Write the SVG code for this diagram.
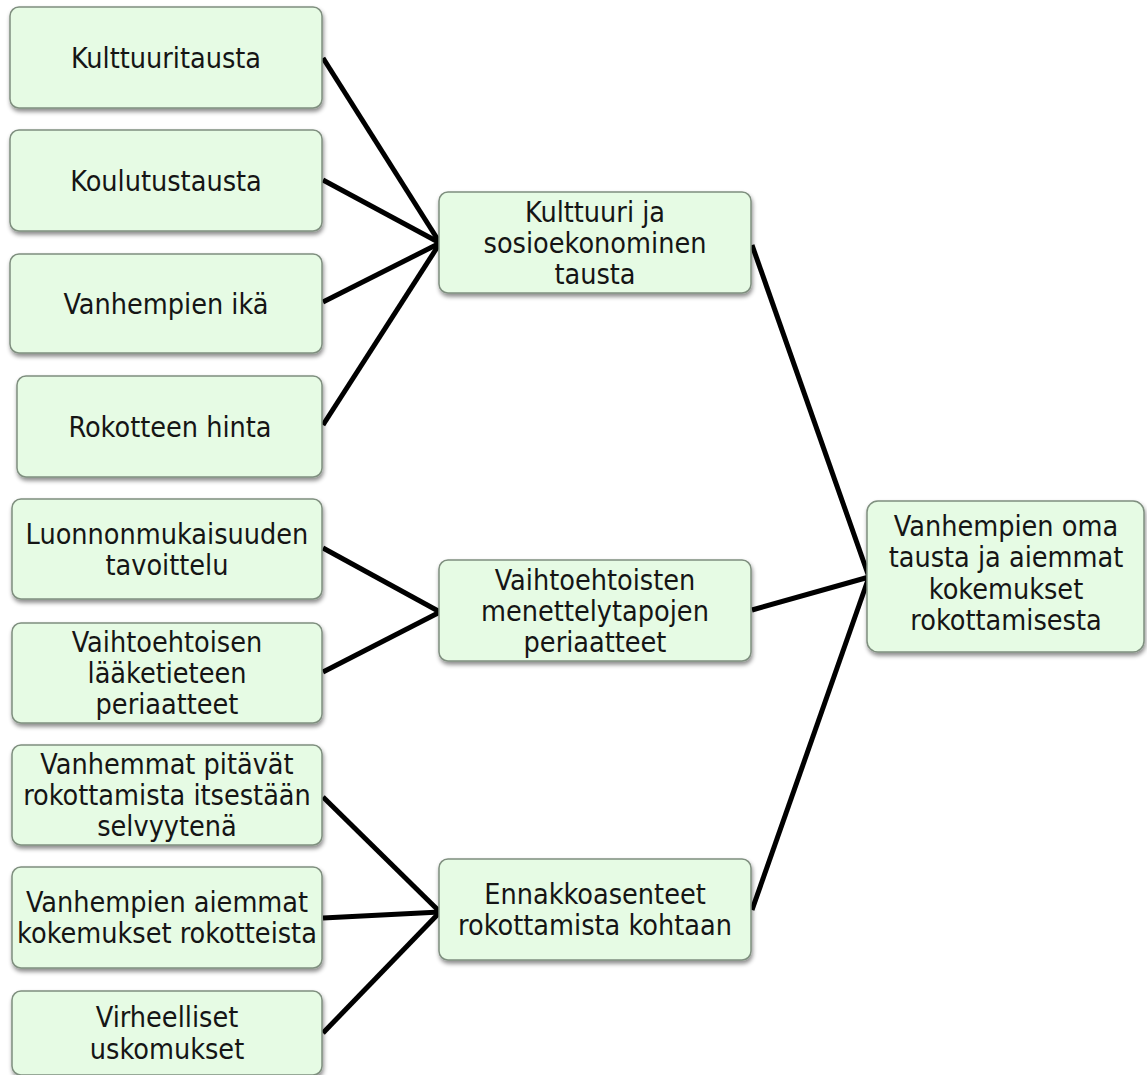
<svg xmlns="http://www.w3.org/2000/svg" width="1147" height="1075" viewBox="0 0 1147 1075">
<defs>
<filter id="sh" x="-5%" y="-10%" width="112%" height="130%">
<feDropShadow dx="1" dy="3" stdDeviation="2" flood-color="#000" flood-opacity="0.45"/>
</filter>
<style>
.box{fill:#e6fbe4;stroke:#7f8f7f;stroke-width:1.5;filter:url(#sh)}
.t{font-family:"DejaVu Sans Condensed","DejaVu Sans",sans-serif;font-stretch:condensed;font-size:28.5px;fill:#151515;text-anchor:middle}
.c{stroke:#000;stroke-width:5;fill:none;stroke-linecap:butt}
</style>
</defs>
<rect width="1147" height="1075" fill="#fff"/>
<g id="connectors">
<line class="c" x1="323" y1="58" x2="440" y2="243"/>
<line class="c" x1="323" y1="180" x2="440" y2="243"/>
<line class="c" x1="323" y1="302" x2="440" y2="243"/>
<line class="c" x1="323" y1="425" x2="440" y2="243"/>
<line class="c" x1="752" y1="245" x2="869" y2="577"/>
<line class="c" x1="323" y1="548" x2="440" y2="612"/>
<line class="c" x1="323" y1="672" x2="440" y2="612"/>
<line class="c" x1="752" y1="610" x2="869" y2="577"/>
<line class="c" x1="323" y1="797" x2="440" y2="912"/>
<line class="c" x1="323" y1="918" x2="440" y2="912"/>
<line class="c" x1="323" y1="1033" x2="440" y2="912"/>
<line class="c" x1="752" y1="910" x2="869" y2="577"/>
</g>
<g id="n1"><rect class="box" x="10" y="7" width="312" height="101" rx="9"/><text class="t" x="166" y="68">Kulttuuritausta</text></g>
<g id="n2"><rect class="box" x="10" y="130" width="312" height="101" rx="9"/><text class="t" x="166" y="190.5">Koulutustausta</text></g>
<g id="n3"><rect class="box" x="10" y="254" width="312" height="99" rx="9"/><text class="t" x="166" y="313.5">Vanhempien ikä</text></g>
<g id="n4"><rect class="box" x="17" y="376" width="305" height="101" rx="9"/><text class="t" x="170" y="436.5">Rokotteen hinta</text></g>
<g id="n5"><rect class="box" x="12" y="499" width="310" height="100" rx="9"/><text class="t" x="167" y="543.5">Luonnonmukaisuuden<tspan x="167" dy="31">tavoittelu</tspan></text></g>
<g id="n6"><rect class="box" x="12" y="623" width="310" height="100" rx="9"/><text class="t" x="167" y="652">Vaihtoehtoisen<tspan x="167" dy="31">lääketieteen</tspan><tspan x="167" dy="31">periaatteet</tspan></text></g>
<g id="n7"><rect class="box" x="12" y="745" width="310" height="100" rx="9"/><text class="t" x="167" y="774">Vanhemmat pitävät<tspan x="167" dy="31">rokottamista itsestään</tspan><tspan x="167" dy="31">selvyytenä</tspan></text></g>
<g id="n8"><rect class="box" x="12" y="867" width="310" height="101" rx="9"/><text class="t" x="167" y="912">Vanhempien aiemmat<tspan x="167" dy="31">kokemukset rokotteista</tspan></text></g>
<g id="n9"><rect class="box" x="12" y="991" width="310" height="84" rx="9"/><text class="t" x="167" y="1027">Virheelliset<tspan x="167" dy="32">uskomukset</tspan></text></g>
<g id="m1"><rect class="box" x="439" y="192" width="312" height="101" rx="9"/><text class="t" x="595" y="221.5">Kulttuuri ja<tspan x="595" dy="31">sosioekonominen</tspan><tspan x="595" dy="31">tausta</tspan></text></g>
<g id="m2"><rect class="box" x="439" y="560" width="312" height="101" rx="9"/><text class="t" x="595" y="589.5">Vaihtoehtoisten<tspan x="595" dy="31">menettelytapojen</tspan><tspan x="595" dy="31">periaatteet</tspan></text></g>
<g id="m3"><rect class="box" x="439" y="859" width="312" height="101" rx="9"/><text class="t" x="595" y="904">Ennakkoasenteet<tspan x="595" dy="31">rokottamista kohtaan</tspan></text></g>
<g id="r1"><rect class="box" x="867" y="501" width="277" height="151" rx="11"/><text class="t" x="1006" y="536">Vanhempien oma<tspan x="1006" dy="31.3">tausta ja aiemmat</tspan><tspan x="1006" dy="31.3">kokemukset</tspan><tspan x="1006" dy="31.3">rokottamisesta</tspan></text></g>
</svg>
